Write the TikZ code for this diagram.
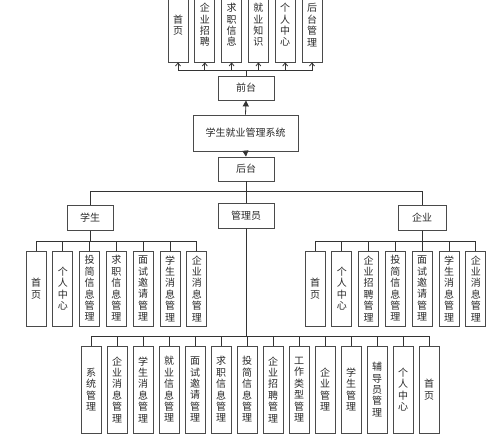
\documentclass[tikz,border=0pt]{standalone}
\usepackage{fontspec}
\newfontfamily\cjk{Noto Sans CJK SC}
\usetikzlibrary{arrows.meta}
\definecolor{boxc}{HTML}{4A4A4A}
\definecolor{linec}{HTML}{333333}
\definecolor{txtc}{HTML}{2A2A2A}
\begin{document}
\begin{tikzpicture}[x=1pt,y=-1pt,
  box/.style={draw=boxc, line width=0.8pt, fill=white, inner sep=0pt, text=txtc,
    font=\cjk\fontsize{10}{11.4}\selectfont, align=center},
  vbox/.style={box, minimum width=20pt, minimum height=75pt},
  hbox/.style={box, minimum width=56pt, minimum height=24pt},
  conn/.style={draw=linec, line width=0.8pt},
  openarr/.style={conn, -{Straight Barb[length=3pt,width=5pt]}},
  fillarr/.style={conn, -{Triangle[length=6pt,width=6pt]}}]
\useasboundingbox (0,0) rectangle (499,437);
\clip (0,0) rectangle (499,437);
\fill[white] (0,0) rectangle (499,437);

% central column
\node[hbox] (qt) at (246,88) {前台};
\node[box, minimum width=105pt, minimum height=36pt] (sys) at (245.5,133) {学生就业管理系统};
\node[hbox] (ht) at (246,169) {后台};

\draw[fillarr] (sys.north) -- (qt.south);
\draw[fillarr] (sys.south) -- (ht.north);

% top (front-end) modules
\foreach \t [count=\i] in {{首\\页},{企\\业\\招\\聘},{求\\职\\信\\息},{就\\业\\知\\识},{个\\人\\中\\心},{后\\台\\管\\理}}{
  \node[vbox, minimum height=74pt] (t\i) at ({178+26.8*(\i-1)},25) {\t};
  \draw[openarr] (qt.north) -- ++(0,-5) -| (t\i.south);
}

% roles
\node[box, minimum width=46pt, minimum height=25pt] (xs) at (90,218) {学生};
\node[hbox, minimum height=25pt] (gly) at (246,216) {管理员};
\node[box, minimum width=48pt, minimum height=25pt] (qy) at (422,218) {企业};
\draw[conn] (ht.south) -- ++(0,10) -| (xs.north);
\draw[conn] (ht.south) -- ++(0,10) -| (qy.north);
\draw[conn] (ht.south) -- (gly.north);

% student modules
\foreach \t [count=\i] in {{首\\页},{个\\人\\中\\心},{投\\简\\信\\息\\管\\理},{求\\职\\信\\息\\管\\理},{面\\试\\邀\\请\\管\\理},{学\\生\\消\\息\\管\\理},{企\\业\\消\\息\\管\\理}}{
  \node[vbox] (s\i) at ({36+26.8*(\i-1)},288.5) {\t};
  \draw[conn] (xs.south) -- ++(0,10.5) -| (s\i.north);
}

% enterprise modules
\foreach \t [count=\i] in {{首\\页},{个\\人\\中\\心},{企\\业\\招\\聘\\管\\理},{投\\简\\信\\息\\管\\理},{面\\试\\邀\\请\\管\\理},{学\\生\\消\\息\\管\\理},{企\\业\\消\\息\\管\\理}}{
  \node[vbox] (e\i) at ({315+26.8*(\i-1)},288.5) {\t};
  \draw[conn] (qy.south) -- ++(0,10.5) -| (e\i.north);
}

% admin modules
\foreach \t [count=\i] in {{系\\统\\管\\理},{企\\业\\消\\息\\管\\理},{学\\生\\消\\息\\管\\理},{就\\业\\信\\息\\管\\理},{面\\试\\邀\\请\\管\\理},{求\\职\\信\\息\\管\\理},{投\\简\\信\\息\\管\\理},{企\\业\\招\\聘\\管\\理},{工\\作\\类\\型\\管\\理},{企\\业\\管\\理},{学\\生\\管\\理},{辅\\导\\员\\管\\理},{个\\人\\中\\心},{首\\页}}{
  \node[vbox, minimum height=87pt] (a\i) at ({91+26*(\i-1)},389.5) {\t};
  \draw[conn] (gly.south) -- ++(0,107.5) -| (a\i.north);
}
\end{tikzpicture}
\end{document}
